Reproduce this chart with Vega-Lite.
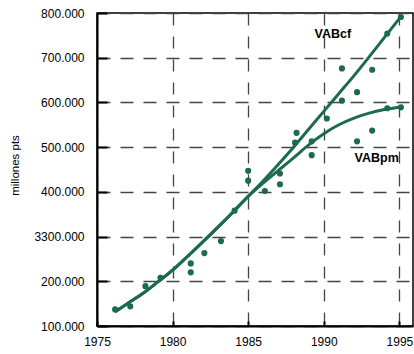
{
  "$schema": "https://vega.github.io/schema/vega-lite/v6.json",
  "width": 316,
  "height": 313,
  "autosize": {"type": "none"},
  "padding": {"left": 97, "top": 13, "right": 1, "bottom": 28},
  "background": "white",
  "config": {
    "view": {"stroke": "black", "strokeWidth": 1.5},
    "font": "Liberation Sans",
    "axis": {
      "domainColor": "black",
      "domainWidth": 2,
      "tickColor": "black",
      "tickWidth": 2,
      "labelColor": "black",
      "labelFontSize": 12,
      "labelFont": "Liberation Sans",
      "gridColor": "#444444",
      "gridWidth": 1.3,
      "gridOpacity": 1
    }
  },
  "datasets": {
    "curves": [
      {"series": "VABcf", "year": 1976.2, "value": 132},
      {"series": "VABcf", "year": 1977, "value": 150},
      {"series": "VABcf", "year": 1978, "value": 172},
      {"series": "VABcf", "year": 1979, "value": 198},
      {"series": "VABcf", "year": 1980, "value": 225},
      {"series": "VABcf", "year": 1981, "value": 256},
      {"series": "VABcf", "year": 1982, "value": 288},
      {"series": "VABcf", "year": 1983, "value": 321},
      {"series": "VABcf", "year": 1984, "value": 355},
      {"series": "VABcf", "year": 1985, "value": 390},
      {"series": "VABcf", "year": 1986, "value": 425},
      {"series": "VABcf", "year": 1987, "value": 462},
      {"series": "VABcf", "year": 1988, "value": 500},
      {"series": "VABcf", "year": 1989, "value": 540},
      {"series": "VABcf", "year": 1990, "value": 580},
      {"series": "VABcf", "year": 1991, "value": 620},
      {"series": "VABcf", "year": 1992, "value": 660},
      {"series": "VABcf", "year": 1993, "value": 702},
      {"series": "VABcf", "year": 1994, "value": 745},
      {"series": "VABcf", "year": 1995.1, "value": 792},
      {"series": "VABpm", "year": 1976.2, "value": 132},
      {"series": "VABpm", "year": 1977, "value": 150},
      {"series": "VABpm", "year": 1978, "value": 172},
      {"series": "VABpm", "year": 1979, "value": 198},
      {"series": "VABpm", "year": 1980, "value": 225},
      {"series": "VABpm", "year": 1981, "value": 256},
      {"series": "VABpm", "year": 1982, "value": 288},
      {"series": "VABpm", "year": 1983, "value": 321},
      {"series": "VABpm", "year": 1984, "value": 355},
      {"series": "VABpm", "year": 1985, "value": 390},
      {"series": "VABpm", "year": 1986, "value": 420},
      {"series": "VABpm", "year": 1987, "value": 448},
      {"series": "VABpm", "year": 1988, "value": 476},
      {"series": "VABpm", "year": 1989, "value": 505},
      {"series": "VABpm", "year": 1990, "value": 530},
      {"series": "VABpm", "year": 1991, "value": 550},
      {"series": "VABpm", "year": 1992, "value": 565},
      {"series": "VABpm", "year": 1993, "value": 576},
      {"series": "VABpm", "year": 1994, "value": 584},
      {"series": "VABpm", "year": 1995.1, "value": 590}
    ],
    "points": [
      {"year": 1976.2, "value": 137},
      {"year": 1977.2, "value": 144},
      {"year": 1978.2, "value": 189},
      {"year": 1979.2, "value": 208},
      {"year": 1981.2, "value": 240},
      {"year": 1981.2, "value": 220},
      {"year": 1982.1, "value": 263},
      {"year": 1983.2, "value": 290},
      {"year": 1984.1, "value": 358},
      {"year": 1985.0, "value": 447},
      {"year": 1985.0, "value": 425},
      {"year": 1986.1, "value": 402},
      {"year": 1987.1, "value": 441},
      {"year": 1987.1, "value": 417},
      {"year": 1988.2, "value": 532},
      {"year": 1988.1, "value": 510},
      {"year": 1989.2, "value": 513},
      {"year": 1989.2, "value": 482},
      {"year": 1990.2, "value": 564},
      {"year": 1991.2, "value": 604},
      {"year": 1991.2, "value": 676},
      {"year": 1992.2, "value": 623},
      {"year": 1992.2, "value": 513},
      {"year": 1993.2, "value": 673},
      {"year": 1993.2, "value": 537},
      {"year": 1994.2, "value": 754},
      {"year": 1994.2, "value": 587},
      {"year": 1995.1, "value": 791},
      {"year": 1995.1, "value": 589}
    ],
    "labels": [
      {"year": 1990.6, "value": 753, "text": "VABcf"},
      {"year": 1993.5, "value": 475, "text": "VABpm"}
    ]
  },
  "layer": [
    {
      "data": {"name": "curves"},
      "mark": {"type": "line", "interpolate": "monotone", "strokeWidth": 3, "color": "#1b6b4c"},
      "encoding": {
        "x": {
          "field": "year", "type": "quantitative",
          "scale": {"domain": [1975, 1995.9], "nice": false, "zero": false},
          "axis": {
            "title": null,
            "values": [1975, 1980, 1985, 1990, 1995],
            "format": "d",
            "labelFlush": false,
            "labelOverlap": false,
            "tickSize": -5,
            "labelPadding": 15,
            "grid": true,
            "gridDash": [12, 11]
          }
        },
        "y": {
          "field": "value", "type": "quantitative",
          "scale": {"domain": [100, 800], "nice": false, "zero": false},
          "axis": {
            "title": "millones pts",
            "titleFontSize": 11.5,
            "titleFontWeight": "normal",
            "titleColor": "black",
            "titleAngle": -90,
            "titleX": -82,
            "titleY": 152,
            "titleAlign": "center",
            "titleBaseline": "middle",
            "values": [100, 200, 300, 400, 500, 600, 700, 800],
            "labelExpr": "datum.value === 300 ? '3300.000' : datum.value + '.000'",
            "labelOverlap": false,
            "labelFlush": false,
            "tickSize": -10,
            "labelPadding": 23,
            "grid": true,
            "gridDash": [13, 10]
          }
        },
        "detail": {"field": "series"}
      }
    },
    {
      "data": {"name": "points"},
      "mark": {"type": "circle", "size": 38, "opacity": 1, "color": "#1b6b4c"},
      "encoding": {
        "x": {"field": "year", "type": "quantitative"},
        "y": {"field": "value", "type": "quantitative"}
      }
    },
    {
      "data": {"name": "labels"},
      "mark": {"type": "text", "fontWeight": "bold", "fontSize": 12.5, "color": "black", "font": "Liberation Sans"},
      "encoding": {
        "x": {"field": "year", "type": "quantitative"},
        "y": {"field": "value", "type": "quantitative"},
        "text": {"field": "text"}
      }
    }
  ]
}
